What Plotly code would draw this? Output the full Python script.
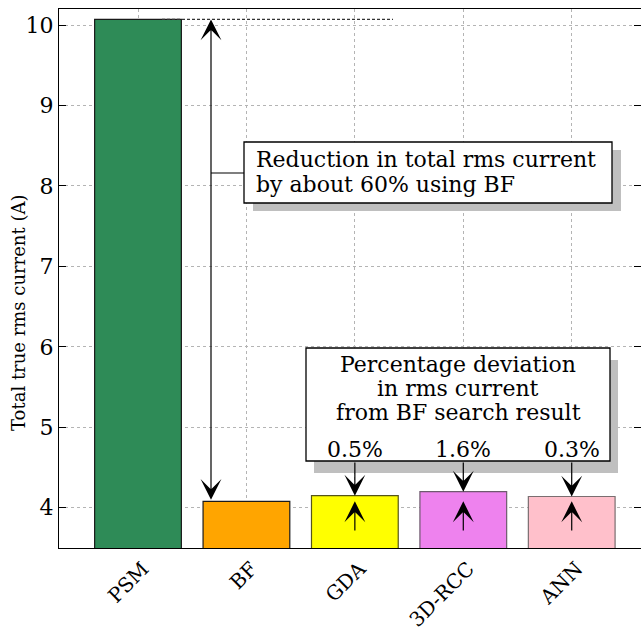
import plotly.graph_objects as go

# Total true rms current per modulation / optimisation method
methods = ["PSM", "BF", "GDA", "3D-RCC", "ANN"]
rms_current = [10.07, 4.08, 4.15, 4.20, 4.14]
deviation_labels = ["0.5%", "1.6%", "0.3%"]   # for GDA, 3D-RCC, ANN vs BF
y_ticks = [4, 5, 6, 7, 8, 9, 10]

bar_fill = ["#2E8B57", "#FFA500", "#FFFF00", "#EE82EE", "#FFC0CB"]
bar_edge = ["#1a1a1a", "#1a1a1a", "#55551a", "#6e5a6e", "#7a6e70"]

FONT = "DejaVu Serif"
W, H = 641, 637
L, R, T, B = 59, 0, 9, 89

# pixel <-> axis helpers used to place the callout boxes
X0, DX = 138.0, 108.43
Y_LO, Y_HI = 3.5, 10.2
PH = H - T - B
PW = W - L - R


def px2x(px):
    return (px - X0) / DX


def py2y(py):
    return Y_LO + (H - B - py) * (Y_HI - Y_LO) / PH


x_range = [px2x(L), px2x(W - R)]

fig = go.Figure()
fig.add_trace(go.Bar(
    x=list(range(len(methods))), y=rms_current, width=0.8,
    marker=dict(color=bar_fill, line=dict(color=bar_edge, width=1.2)),
    hoverinfo="skip", showlegend=False,
))

shapes = []
annotations = []

psm, bf = rms_current[0], rms_current[1]
HEAD = dict(arrowhead=3, arrowsize=2.9, arrowwidth=1.2, arrowcolor="black", standoff=0)

# dashed reference level at the PSM value
shapes.append(dict(type="line", xref="x", yref="y", x0=px2x(162), x1=px2x(393),
                   y0=psm, y1=psm, line=dict(color="#333333", width=1.2, dash="3px,2px")))

# double arrow between PSM and BF levels
xa = px2x(211)
annotations.append(dict(x=xa, y=psm, ax=xa, ay=bf, xref="x", yref="y", axref="x", ayref="y",
                        showarrow=True, startarrowhead=3, arrowside="end+start",
                        startarrowsize=2.9, startstandoff=0, text="", **HEAD))


def callout(x0p, x1p, y0p, y1p, sx, sy):
    shapes.append(dict(type="rect", xref="x", yref="y",
                       x0=px2x(x0p + sx), x1=px2x(x1p + sx), y0=py2y(y0p + sy), y1=py2y(y1p + sy),
                       fillcolor="#bfbfbf", line=dict(width=0), layer="above"))
    shapes.append(dict(type="rect", xref="x", yref="y",
                       x0=px2x(x0p), x1=px2x(x1p), y0=py2y(y0p), y1=py2y(y1p),
                       fillcolor="white", line=dict(color="black", width=1.3), layer="above"))


# callout box 1
callout(244, 612, 142, 203, 9, 8)
shapes.append(dict(type="line", xref="x", yref="y", x0=xa, x1=px2x(244),
                   y0=py2y(173), y1=py2y(173), line=dict(color="black", width=1.2)))

for txt, yp in [("Reduction in total rms current", 159), ("by about 60% using BF", 184)]:
    annotations.append(dict(x=px2x(254), y=py2y(yp), xref="x", yref="y", text=txt,
                            showarrow=False, xanchor="left", yanchor="middle",
                            font=dict(family=FONT, size=22, color="black")))

# callout box 2 with deviation arrows
callout(306, 610, 348, 461, 8, 12)
for txt, yp in [("Percentage deviation", 364), ("in rms current", 388), ("from BF search result", 412)]:
    annotations.append(dict(x=px2x(458), y=py2y(yp), xref="x", yref="y", text=txt,
                            showarrow=False, xanchor="center", yanchor="middle",
                            font=dict(family=FONT, size=22, color="black")))

for k, lab in enumerate(deviation_labels):
    i = k + 2
    annotations.append(dict(x=i, y=py2y(449), xref="x", yref="y", text=lab,
                            showarrow=False, xanchor="center", yanchor="middle",
                            font=dict(family=FONT, size=22, color="black")))
    # arrow from the box down to the bar top
    annotations.append(dict(x=i, y=rms_current[i], ax=i, ay=py2y(461), xref="x", yref="y",
                            axref="x", ayref="y", showarrow=True, text="", **HEAD))
    # arrow inside the bar up to the BF level
    annotations.append(dict(x=i, y=bf, ax=i, ay=py2y(532), xref="x", yref="y",
                            axref="x", ayref="y", showarrow=True, text="", **HEAD))

# y-axis title
annotations.append(dict(x=(18 - L) / PW, y=(H - B - 313) / PH, xref="paper", yref="paper",
                        text="Total true rms current (A)", textangle=-90, showarrow=False,
                        xanchor="center", yanchor="middle",
                        font=dict(family=FONT, size=18, color="black")))

fig.update_layout(
    width=W, height=H, margin=dict(l=L, r=R, t=T, b=B, autoexpand=False),
    plot_bgcolor="white", paper_bgcolor="white",
    font=dict(family=FONT, color="black"),
    bargap=0.2, shapes=shapes, annotations=annotations,
    xaxis=dict(range=x_range, tickvals=list(range(len(methods))), ticktext=methods,
               tickangle=-45, ticks="", showgrid=True, gridcolor="#b4b4b4", gridwidth=1,
               griddash="3px,3px", showline=True, linecolor="black", linewidth=1.3,
               mirror=True, zeroline=False, automargin=False, ticklabelshift=5,
               tickfont=dict(family=FONT, size=20)),
    yaxis=dict(range=[Y_LO, Y_HI], tickvals=y_ticks, ticks="inside", ticklen=7,
               tickwidth=1.3, tickcolor="black", showgrid=True, gridcolor="#b4b4b4",
               gridwidth=1, griddash="3px,3px", showline=True, linecolor="black",
               linewidth=1.3, mirror="ticks", zeroline=False, automargin=False,
               tickfont=dict(family=FONT, size=22)),
)

fig.write_html("out.html")
